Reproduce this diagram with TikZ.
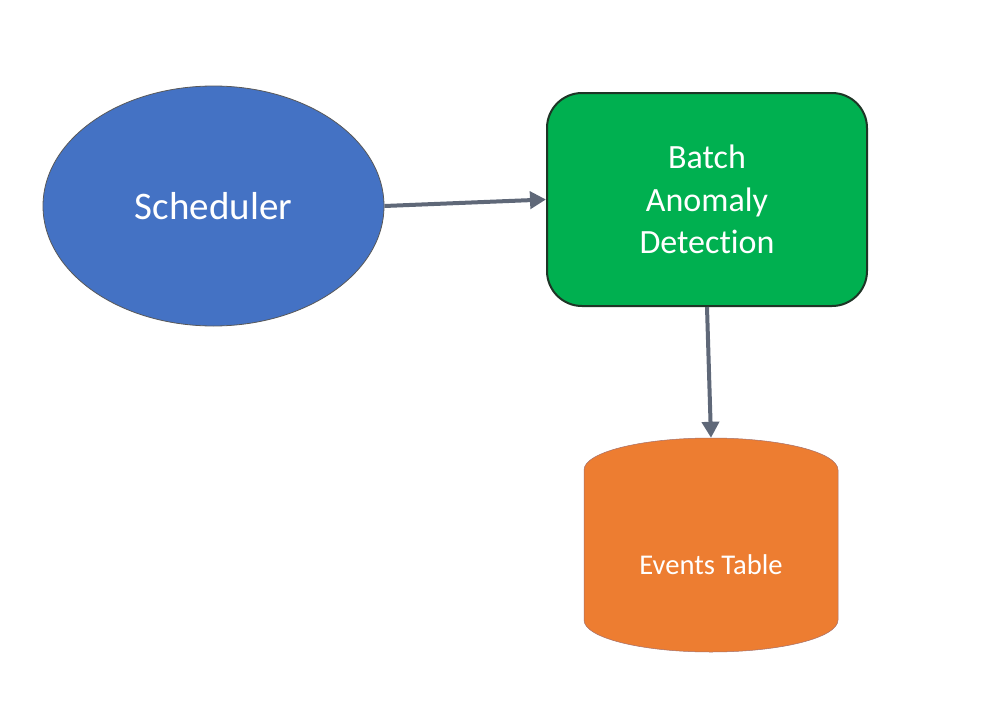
\documentclass[tikz,border=0pt]{standalone}
\usepackage{fontspec}
\setmainfont{Carlito}[Ligatures=NoCommon]
\usetikzlibrary{shapes.geometric,arrows.meta}
\definecolor{schedblue}{HTML}{4472C4}
\definecolor{batchgreen}{HTML}{00B050}
\definecolor{eventorange}{HTML}{ED7D31}
\definecolor{arrowgray}{HTML}{5F6878}
\definecolor{rectborder}{HTML}{1E3526}
\tikzset{
  schedstyle/.style={ellipse, fill=schedblue, draw=gray!70!black, line width=0.8pt, inner sep=0pt,
    minimum width=341pt, minimum height=240pt, text=white, font=\fontsize{39}{47}\selectfont},
  batchstyle/.style={rectangle, rounded corners=35pt, fill=batchgreen, draw=rectborder, line width=2pt,
    minimum width=320pt, minimum height=213pt, inner sep=0pt, text=white, align=center,
    font=\fontsize{34}{42.5}\selectfont},
  cylbody/.style={fill=eventorange, draw=eventorange!80!blue!60!gray, line width=0.5pt},
  cylstyle/.style={rectangle, draw=none, fill=none, minimum width=254pt, minimum height=214pt, inner sep=0pt},
  flow/.style={draw=arrowgray, line width=4pt, -{Triangle[length=16pt,width=17pt]}, shorten >=0pt}
}
\begin{document}
\begin{tikzpicture}[x=1pt,y=-1pt]
\useasboundingbox (0,0) rectangle (1002,712);
\fill[white] (0,0) rectangle (1002,712);
\node[schedstyle] (sched) at (213.5,206) {Scheduler};
\node[batchstyle] (batch) at (707,199.5) {Batch\\Anomaly\\Detection};
\path[cylbody] (584,470) arc[start angle=180, end angle=360, x radius=127, y radius=32]
  -- (838,620) arc[start angle=0, end angle=180, x radius=127, y radius=32] -- cycle;
\node[cylstyle] (events) at (711,545) {};
\node[text=white, font=\fontsize{28.6}{34}\selectfont] (eventslabel) at (711,565) {Events Table};
\draw[flow] (sched.east) -- (batch.west);
\draw[flow] (batch.south) -- (events.north);
\end{tikzpicture}
\end{document}
